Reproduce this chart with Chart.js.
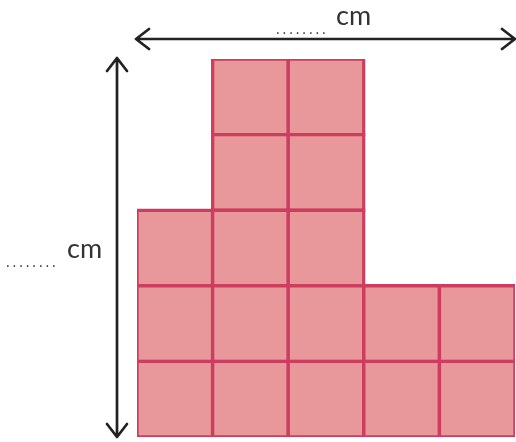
<!DOCTYPE html>
<html>
<head>
<meta charset="utf-8">
<title>Grid shape</title>
<script src="https://cdn.jsdelivr.net/npm/chart.js@4/dist/chart.umd.min.js"></script>
<style>
  html, body { margin: 0; padding: 0; background: #fff; }
  #wrap { width: 516px; height: 442px; position: relative; }
</style>
</head>
<body>
<div id="wrap"><canvas id="chart-shape"></canvas></div>
<script>
// Columns of the shape, one unit square per cell
const columns = ['1', '2', '3', '4', '5'];

// Rows from the bottom up (1 = square present)
const row1 = [1, 1, 1, 1, 1];
const row2 = [1, 1, 1, 1, 1];
const row3 = [1, 1, 1, null, null];
const row4 = [null, 1, 1, null, null];
const row5 = [null, 1, 1, null, null];

const widthLabel = 'cm';
const heightLabel = 'cm';
const blankDots = '........';

const FILL = '#e8979a';
const EDGE = '#cc3d5f';
const INK = '#222222';

/**
 * Draws the two measuring arrows and the blank labels
 */
const measurePlugin = {
  id: 'measure',
  afterDraw(chart) {
    const { ctx, chartArea: a } = chart;
    ctx.save();
    ctx.strokeStyle = INK;
    ctx.lineWidth = 2.7;
    ctx.lineCap = 'round';
    ctx.lineJoin = 'round';

    // horizontal arrow
    const hy = a.top - 20;
    const hl = a.left - 1, hr = a.right;
    ctx.beginPath();
    ctx.moveTo(hl, hy); ctx.lineTo(hr, hy);
    ctx.moveTo(hl + 13, hy - 10); ctx.lineTo(hl, hy); ctx.lineTo(hl + 13, hy + 10);
    ctx.moveTo(hr - 13, hy - 10); ctx.lineTo(hr, hy); ctx.lineTo(hr - 13, hy + 10);
    ctx.stroke();

    // vertical arrow
    const vx = a.left - 20;
    const vt = a.top - 1, vb = a.bottom;
    ctx.beginPath();
    ctx.moveTo(vx, vt); ctx.lineTo(vx, vb);
    ctx.moveTo(vx - 10, vt + 13); ctx.lineTo(vx, vt); ctx.lineTo(vx + 10, vt + 13);
    ctx.moveTo(vx - 10, vb - 13); ctx.lineTo(vx, vb); ctx.lineTo(vx + 10, vb - 13);
    ctx.stroke();

    // labels
    ctx.fillStyle = '#333333';
    ctx.textBaseline = 'alphabetic';
    ctx.textAlign = 'left';
    ctx.font = '27px Lato, "Open Sans", sans-serif';
    ctx.fillText(widthLabel, 336, 25);
    ctx.fillText(heightLabel, 67, 258);

    ctx.font = '14px "Open Sans", sans-serif';
    ctx.letterSpacing = '2.9px';
    ctx.fillText(blankDots, 276, 34);
    ctx.fillText(blankDots, 6, 267);
    ctx.restore();
  }
};

const rowDataset = (data) => ({
  data,
  backgroundColor: FILL,
  borderColor: EDGE,
  borderWidth: 3.4,
  borderSkipped: false,
  inflateAmount: 1.7,
  barPercentage: 1,
  categoryPercentage: 1
});

new Chart(document.getElementById('chart-shape'), {
  type: 'bar',
  data: {
    labels: columns,
    datasets: [row1, row2, row3, row4, row5].map(rowDataset)
  },
  options: {
    responsive: true,
    maintainAspectRatio: false,
    animation: false,
    layout: { padding: { left: 137, right: 1, top: 59, bottom: 5 } },
    plugins: {
      legend: { display: false },
      tooltip: { enabled: false }
    },
    scales: {
      x: { stacked: true, display: false },
      y: { stacked: true, display: false, min: 0, max: 5 }
    }
  },
  plugins: [measurePlugin]
});
</script>
</body>
</html>
